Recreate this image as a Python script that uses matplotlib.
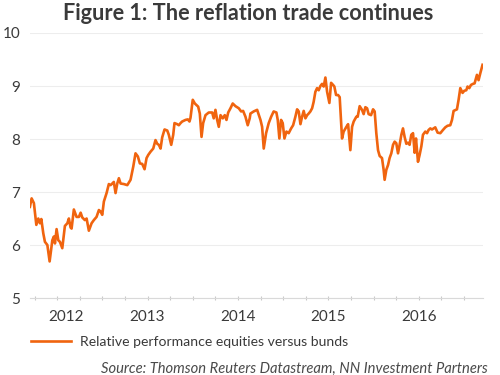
import matplotlib
matplotlib.use("Agg")
import matplotlib.pyplot as plt
from matplotlib.lines import Line2D

# Relative performance equities versus bunds (decimal years)
years = [
    2011.699, 2011.718, 2011.743, 2011.770, 2011.792, 2011.810, 2011.825, 2011.847,
    2011.865, 2011.892, 2011.917, 2011.947, 2011.964, 2011.976, 2011.994, 2012.013,
    2012.031, 2012.057, 2012.086, 2012.113, 2012.130, 2012.149, 2012.160, 2012.185,
    2012.215, 2012.241, 2012.260, 2012.278, 2012.307, 2012.326, 2012.351, 2012.381,
    2012.406, 2012.436, 2012.462, 2012.481, 2012.499, 2012.517, 2012.547, 2012.572,
    2012.591, 2012.610, 2012.627, 2012.646, 2012.665, 2012.683, 2012.702, 2012.738,
    2012.776, 2012.812, 2012.842, 2012.867, 2012.893, 2012.915, 2012.941, 2012.967,
    2012.989, 2013.008, 2013.033, 2013.063, 2013.088, 2013.107, 2013.125, 2013.144,
    2013.162, 2013.188, 2013.218, 2013.235, 2013.262, 2013.284, 2013.298, 2013.328,
    2013.346, 2013.365, 2013.383, 2013.420, 2013.445, 2013.464, 2013.475, 2013.486,
    2013.500, 2013.523, 2013.541, 2013.560, 2013.578, 2013.597, 2013.615, 2013.641,
    2013.677, 2013.715, 2013.732, 2013.751, 2013.770, 2013.788, 2013.807, 2013.832,
    2013.854, 2013.873, 2013.892, 2013.917, 2013.942, 2013.972, 2014.009, 2014.035,
    2014.057, 2014.083, 2014.108, 2014.130, 2014.138, 2014.174, 2014.212, 2014.249,
    2014.267, 2014.285, 2014.311, 2014.340, 2014.367, 2014.395, 2014.425, 2014.440,
    2014.458, 2014.477, 2014.495, 2014.514, 2014.536, 2014.561, 2014.588, 2014.610,
    2014.635, 2014.654, 2014.672, 2014.691, 2014.709, 2014.727, 2014.746, 2014.765,
    2014.782, 2014.801, 2014.820, 2014.837, 2014.856, 2014.875, 2014.893, 2014.912,
    2014.930, 2014.948, 2014.967, 2014.986, 2015.011, 2015.030, 2015.052, 2015.066,
    2015.085, 2015.107, 2015.125, 2015.151, 2015.169, 2015.199, 2015.218, 2015.243,
    2015.262, 2015.280, 2015.309, 2015.324, 2015.346, 2015.372, 2015.390, 2015.409,
    2015.428, 2015.445, 2015.472, 2015.494, 2015.512, 2015.530, 2015.549, 2015.567,
    2015.593, 2015.611, 2015.622, 2015.641, 2015.660, 2015.677, 2015.696, 2015.715,
    2015.733, 2015.751, 2015.770, 2015.788, 2015.807, 2015.825, 2015.843, 2015.862,
    2015.881, 2015.898, 2015.917, 2015.936, 2015.954, 2015.969, 2015.991, 2016.009,
    2016.028, 2016.046, 2016.072, 2016.091, 2016.108, 2016.127, 2016.146, 2016.163,
    2016.182, 2016.208, 2016.238, 2016.267, 2016.293, 2016.318, 2016.348, 2016.367,
    2016.385, 2016.422, 2016.440, 2016.459, 2016.484, 2016.503, 2016.525, 2016.539,
    2016.558, 2016.577, 2016.599, 2016.617, 2016.643, 2016.661, 2016.680, 2016.705,
]
values = [
    6.72, 6.88, 6.79, 6.38, 6.50, 6.41, 6.49, 6.22,
    6.06, 6.00, 5.69, 6.09, 6.16, 6.03, 6.30, 6.09,
    6.06, 5.94, 6.36, 6.41, 6.50, 6.33, 6.31, 6.67,
    6.53, 6.53, 6.61, 6.52, 6.47, 6.50, 6.27, 6.41,
    6.47, 6.53, 6.66, 6.63, 6.57, 6.82, 6.98, 7.15,
    7.13, 7.16, 7.19, 6.98, 7.16, 7.26, 7.16, 7.15,
    7.13, 7.23, 7.48, 7.73, 7.67, 7.54, 7.53, 7.43,
    7.64, 7.70, 7.76, 7.82, 7.98, 7.91, 7.89, 7.82,
    8.03, 8.18, 8.16, 8.08, 7.89, 8.08, 8.30, 8.28,
    8.26, 8.30, 8.33, 8.36, 8.37, 8.33, 8.40, 8.55,
    8.74, 8.67, 8.64, 8.61, 8.48, 8.04, 8.30, 8.45,
    8.50, 8.50, 8.39, 8.55, 8.36, 8.23, 8.45, 8.39,
    8.45, 8.36, 8.50, 8.58, 8.67, 8.62, 8.58, 8.52,
    8.53, 8.42, 8.26, 8.39, 8.48, 8.52, 8.55, 8.36,
    8.23, 7.82, 8.11, 8.30, 8.42, 8.52, 8.50, 8.36,
    8.01, 8.36, 8.30, 8.01, 8.14, 8.11, 8.20, 8.26,
    8.42, 8.56, 8.52, 8.28, 8.42, 8.53, 8.39, 8.45,
    8.48, 8.52, 8.58, 8.70, 8.89, 8.96, 8.92, 9.00,
    9.04, 8.99, 9.16, 8.89, 8.68, 9.06, 9.02, 8.99,
    8.83, 8.83, 8.79, 8.01, 8.14, 8.23, 8.28, 7.79,
    8.23, 8.33, 8.42, 8.42, 8.62, 8.55, 8.47, 8.60,
    8.58, 8.47, 8.45, 8.56, 8.52, 8.11, 7.79, 7.68,
    7.64, 7.42, 7.23, 7.42, 7.51, 7.64, 7.73, 7.89,
    7.95, 7.92, 7.73, 7.89, 8.08, 8.20, 8.04, 7.91,
    7.93, 7.89, 8.08, 8.11, 7.74, 8.01, 7.57, 7.70,
    7.86, 8.08, 8.14, 8.11, 8.17, 8.20, 8.18, 8.20,
    8.22, 8.12, 8.11, 8.17, 8.22, 8.25, 8.26, 8.36,
    8.53, 8.56, 8.74, 8.96, 8.87, 8.91, 8.92, 8.99,
    8.96, 9.02, 9.04, 9.05, 9.21, 9.11, 9.24, 9.40,
]

year_labels = ["2012", "2013", "2014", "2015", "2016"]
label_pos = [2012.1, 2013.0, 2014.0, 2015.0, 2016.0]
quarter_ticks = [2011.75 + 0.25 * i for i in range(20)]
y_ticks = [5, 6, 7, 8, 9, 10]

ORANGE = "#F0640F"
TXT = "#3A3A3A"

plt.rcParams["font.family"] = ["Lato", "DejaVu Sans"]

fig = plt.figure(figsize=(5, 3.75), dpi=100)
ax = fig.add_axes([0.06, 0.2053, 0.906, 0.7067])

ax.plot(years, values, color=ORANGE, lw=1.9, solid_joinstyle="round")

ax.set_xlim(2011.70, 2016.71)
ax.set_ylim(5, 10)
ax.set_yticks(y_ticks)
ax.set_yticklabels([str(v) for v in y_ticks])
ax.grid(axis="y", color="#EDEDED", lw=0.8)
ax.set_axisbelow(True)

ax.set_xticks(quarter_ticks)
ax.set_xticklabels([])
ax.tick_params(axis="x", which="major", direction="inout", length=3,
               color="#C8C8C8", width=0.8)
for pos, lab in zip(label_pos, year_labels):
    ax.text(pos, -0.072, lab, transform=ax.get_xaxis_transform(),
            ha="center", va="center", fontsize=11, color=TXT)

ax.tick_params(axis="y", length=0, pad=7, labelsize=11, labelcolor=TXT)
for s in ["top", "right", "left"]:
    ax.spines[s].set_visible(False)
ax.spines["bottom"].set_color("#D9D9D9")
ax.spines["bottom"].set_linewidth(0.8)

fig.text(0.496, 0.963, "Figure 1: The reflation trade continues",
         ha="center", va="center", fontsize=15.6, fontweight="bold", color=TXT)

fig.legend(handles=[Line2D([], [], color=ORANGE, lw=1.9)],
           labels=["Relative performance equities versus bunds"],
           loc="center left", bbox_to_anchor=(0.036, 0.088), frameon=False,
           fontsize=10.1, handlelength=2.9, handletextpad=0.6, labelcolor=TXT)

fig.text(0.975, 0.016, "Source: Thomson Reuters Datastream, NN Investment Partners",
         ha="right", va="center", fontsize=10.6, style="italic", color="#4A4A4A")

fig.savefig("out.png", dpi=100)
